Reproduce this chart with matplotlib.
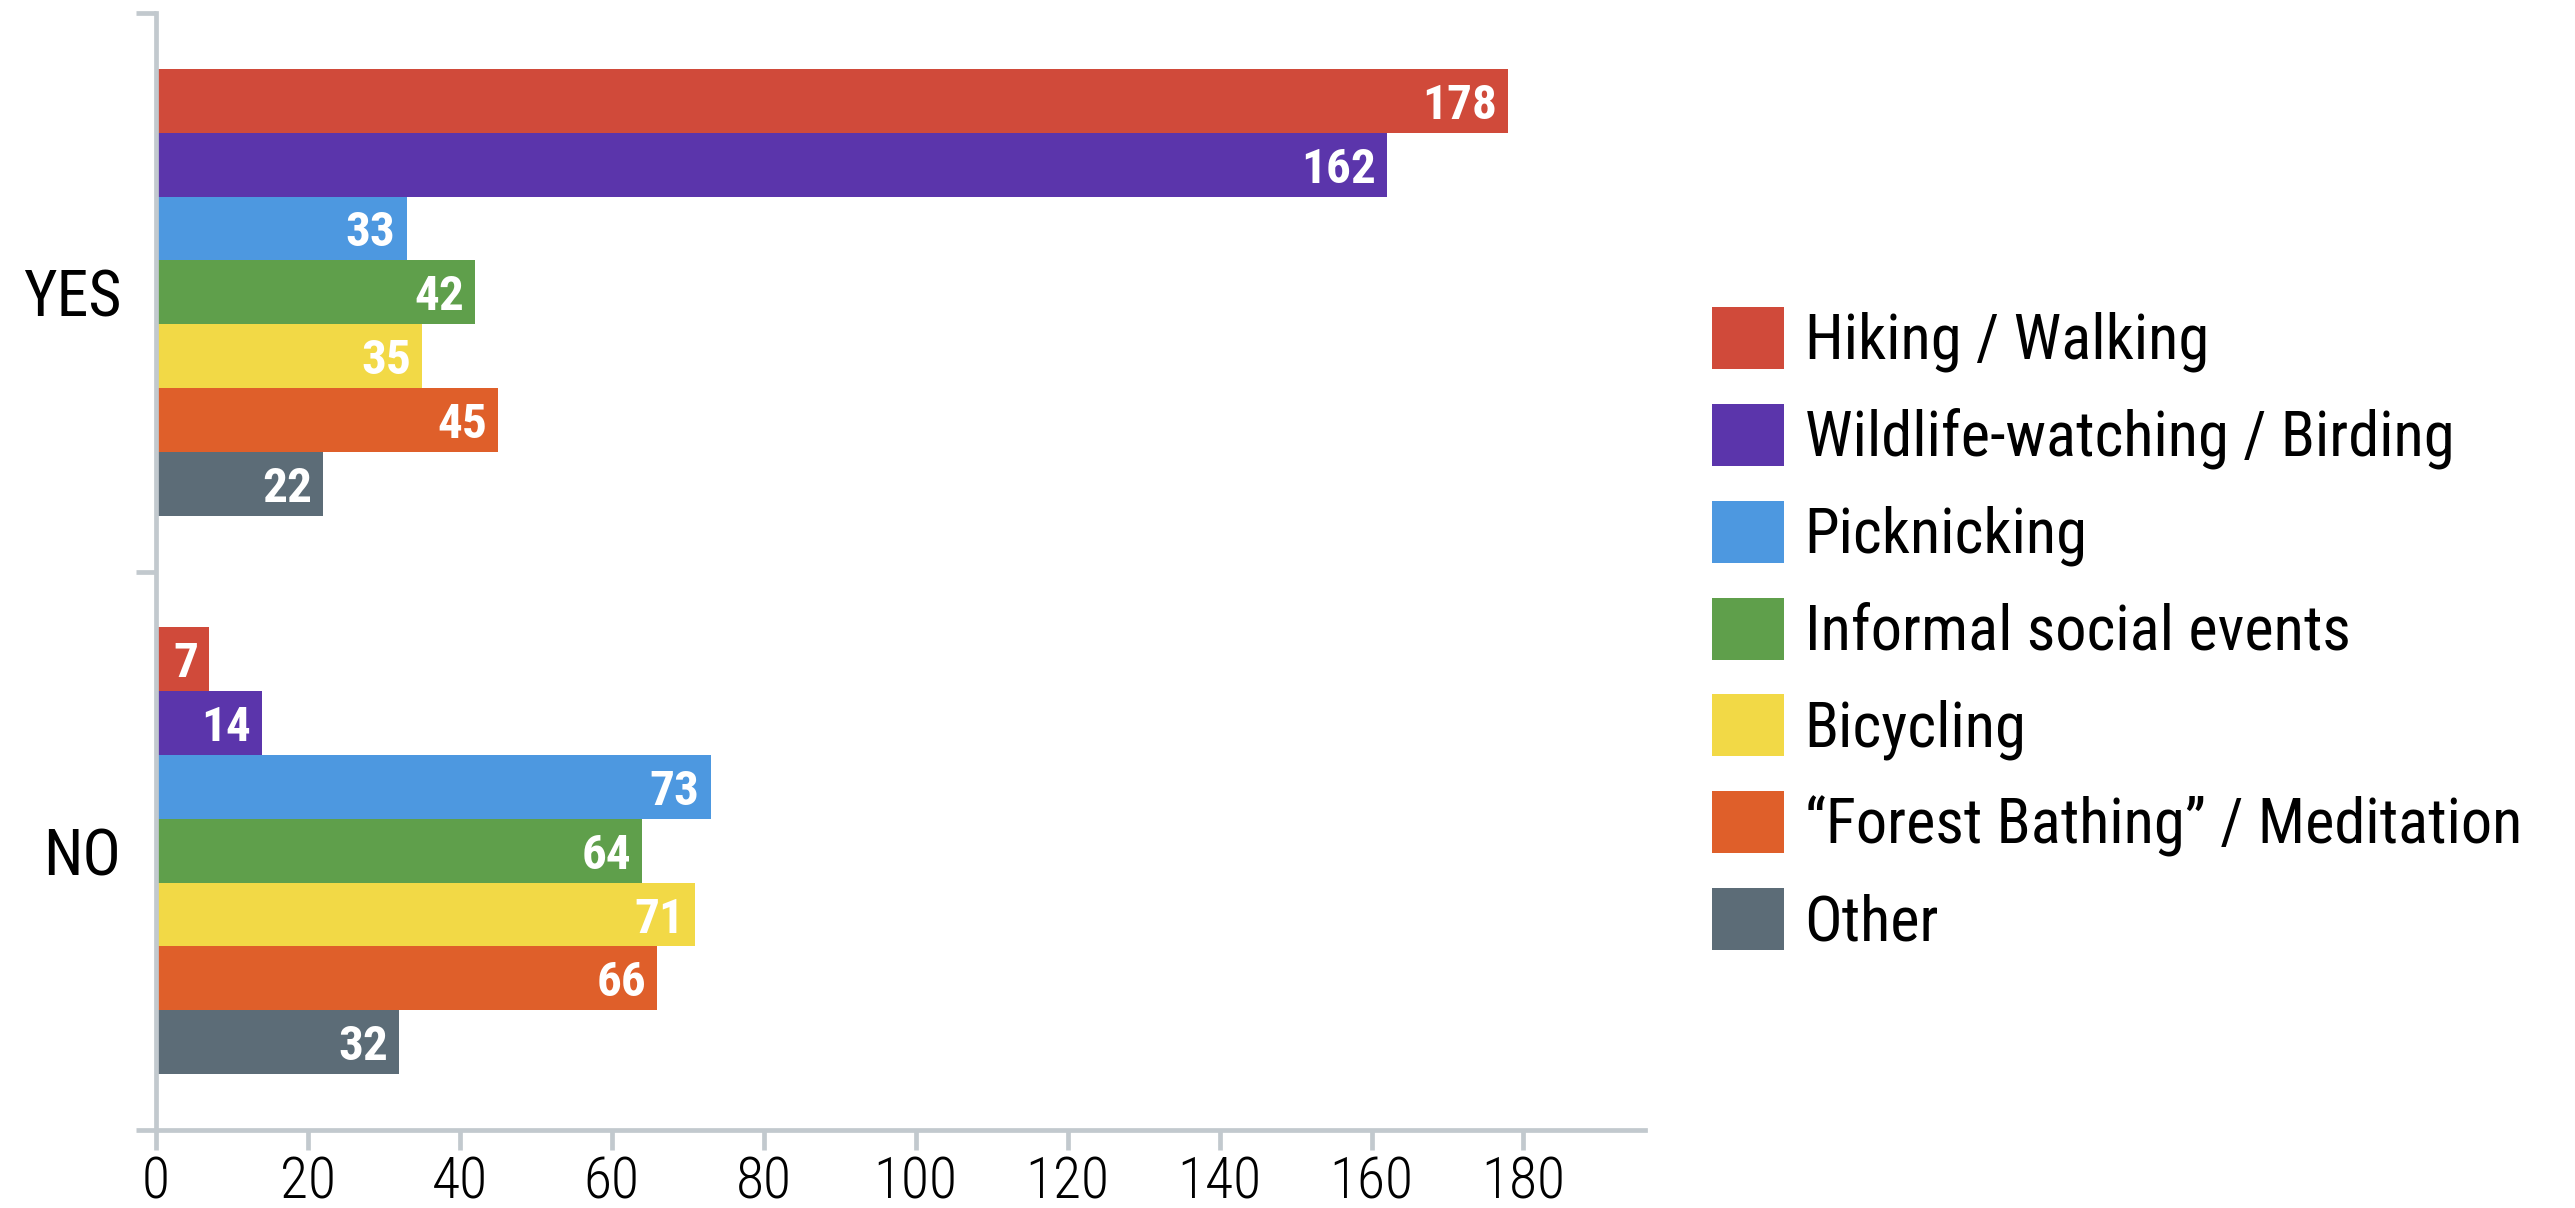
import matplotlib
matplotlib.use('Agg')
import matplotlib.pyplot as plt
from matplotlib import font_manager as fm
from matplotlib.font_manager import FontProperties
from matplotlib.patches import Patch
from matplotlib.ticker import FixedLocator, NullFormatter, FixedFormatter

# ---------------- data ----------------
groups = ['YES', 'NO']
series = ['Hiking / Walking', 'Wildlife-watching / Birding', 'Picknicking',
          'Informal social events', 'Bicycling', '\u201cForest Bathing\u201d / Meditation', 'Other']
yes_values = [178, 162, 33, 42, 35, 45, 22]
no_values = [7, 14, 73, 64, 71, 66, 32]
colors = ['#D04A3A', '#5B35AB', '#4D98E0', '#5F9F4B', '#F2D946', '#DF5F2A', '#5C6C77']
x_ticks = [0, 20, 40, 60, 80, 100, 120, 140, 160, 180]

# ---------------- fonts ----------------
entries = fm.fontManager.ttflist


def find_condensed():
    prefs = ['Roboto Condensed', 'Roboto', 'Noto Sans', 'Open Sans', 'DejaVu Sans',
             'Liberation Sans Narrow', 'Liberation Sans']
    for fam in prefs:
        for e in entries:
            if e.name == fam and ('condensed' in str(e.stretch).lower()
                                  or 'Condensed' in e.fname or 'Narrow' in e.fname):
                return fam, True
    for e in entries:
        if 'condensed' in str(e.stretch).lower():
            return e.name, True
    return 'Roboto', False


fam, is_cond = find_condensed()
scale = 1.0 if is_cond else 0.9
stretch = 'condensed' if is_cond else 'normal'

f_tick = FontProperties(family=fam, stretch=stretch, weight='light', size=41.5 * scale)
f_cat = FontProperties(family=fam, stretch=stretch, weight='normal', size=46 * scale)
f_leg = FontProperties(family=fam, stretch=stretch, weight='normal', size=45 * scale)
f_val = FontProperties(family=fam, stretch=stretch, weight='bold', size=35.5 * scale)

axis_color = '#C2C9CE'

# ---------------- figure ----------------
fig = plt.figure(figsize=(25.75, 12.08), dpi=100)
ax = fig.add_axes([156 / 2575, 78 / 1208, (1645 - 156) / 2575, (1195 - 78) / 1208])

n = len(series)
band = 0.8
h = band / n
group_centers = {'YES': 1.0, 'NO': 0.0}
group_vals = {'YES': yes_values, 'NO': no_values}

for g in groups:
    gc = group_centers[g]
    vals = group_vals[g]
    for i in range(n):
        yc = gc + band / 2 - (i + 0.5) * h
        ax.barh(yc, vals[i], height=h, color=colors[i], linewidth=0)
        ax.annotate(str(vals[i]), xy=(vals[i], yc), xytext=(-8, 0),
                    textcoords='offset points', ha='right', va='center_baseline',
                    color='white', fontproperties=f_val)

ax.set_xlim(0, 196)
ax.set_ylim(-0.5, 1.5)

for s in ['top', 'right']:
    ax.spines[s].set_visible(False)
for s in ['left', 'bottom']:
    ax.spines[s].set_color(axis_color)
    ax.spines[s].set_linewidth(3.4)

ax.set_xticks(x_ticks)
ax.set_xticklabels([str(t) for t in x_ticks])
for lab in ax.get_xticklabels():
    lab.set_fontproperties(f_tick)
ax.tick_params(axis='x', direction='out', length=14.4, width=3.4, color=axis_color,
               pad=4, labelcolor='black')

ax.yaxis.set_major_locator(FixedLocator([-0.5, 0.5, 1.5]))
ax.yaxis.set_major_formatter(NullFormatter())
ax.yaxis.set_minor_locator(FixedLocator([group_centers[g] for g in groups]))
ax.yaxis.set_minor_formatter(FixedFormatter(groups))
ax.tick_params(axis='y', which='major', direction='out', length=14.4, width=3.4, color=axis_color)
ax.tick_params(axis='y', which='minor', length=0, pad=25, labelcolor='black')
for lab in ax.get_yticklabels(minor=True):
    lab.set_fontproperties(f_cat)

handles = [Patch(facecolor=c, edgecolor='none', label=s) for c, s in zip(colors, series)]
fs = f_leg.get_size_in_points()
hsize = 51.8 / fs
fig.legend(handles=handles, loc='center left', bbox_to_anchor=(1712 / 2575, 1 - 630 / 1208),
           frameon=False, prop=f_leg, handlelength=hsize, handleheight=hsize,
           handletextpad=0.33, labelspacing=0.5, borderpad=0, borderaxespad=0)

fig.savefig('out.png', dpi=100)
